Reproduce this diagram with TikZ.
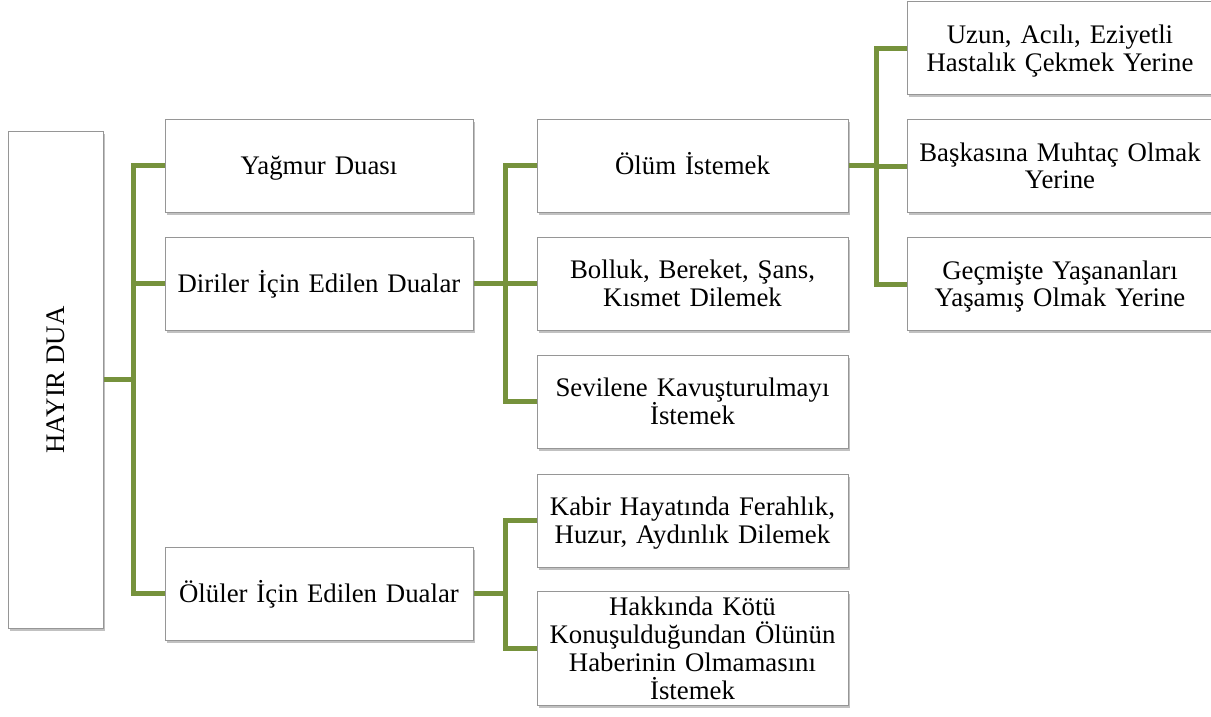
\documentclass[tikz,border=0pt]{standalone}
\usepackage{fontspec}
\setmainfont{Liberation Serif}
\usetikzlibrary{shadows}
\definecolor{conngreen}{RGB}{118,146,60}
\definecolor{boxline}{RGB}{150,150,150}
\tikzset{
  box/.style={draw=boxline, line width=1pt, fill=white,
    drop shadow={shadow xshift=1.5pt, shadow yshift=-2.5pt, opacity=0.35, fill=black!70},
    align=center, inner xsep=2pt, inner ysep=0pt,
    font=\fontsize{26.8}{27.8}\selectfont,
    execute at begin node={\rule{0pt}{24pt}},
    execute at end node={\rule[-6pt]{0pt}{6pt}}},
  lvone/.style={box, minimum width=308pt, minimum height=93pt, text width=300pt},
  lvtwo/.style={box, minimum width=311pt, minimum height=93pt, text width=300pt},
  lvthree/.style={box, minimum width=306pt, minimum height=93pt, text width=300pt},
  conn/.style={draw=conngreen, line width=5pt, line join=miter}
}
\begin{document}
\begin{tikzpicture}[x=1pt,y=-1pt]
\useasboundingbox (0,0) rectangle (1211,717);

\node[box, minimum width=95pt, minimum height=497pt,
  execute at begin node={}, execute at end node={}] (root) at (55.5,379.5) {};
\node[font=\fontsize{26.8}{28}\selectfont, rotate=90] (roottext) at (56,380) {HAYIR DUA};

\node[lvone] (yagmur) at (319,165.5) {Yağmur Duası};
\node[lvone] (diriler) at (319,283.5) {Diriler İçin Edilen Dualar};
\node[lvone] (oluler) at (319,593.5) {Ölüler İçin Edilen Dualar};

\node[lvtwo] (olum) at (692.5,165.5) {Ölüm İstemek};
\node[lvtwo] (bolluk) at (692.5,283.5) {Bolluk, Bereket, Şans,\\Kısmet Dilemek};
\node[lvtwo] (sevilene) at (692.5,401.5) {Sevilene Kavuşturulmayı\\İstemek};
\node[lvtwo] (kabir) at (692.5,520.5) {Kabir Hayatında Ferahlık,\\Huzur, Aydınlık Dilemek};
\node[lvtwo, minimum height=113pt] (hakkinda) at (692.5,648.5) {Hakkında Kötü\\Konuşulduğundan Ölünün\\Haberinin Olmamasını\\İstemek};

\node[lvthree] (uzun) at (1060,48.5) {Uzun, Acılı, Eziyetli\\Hastalık Çekmek Yerine};
\node[lvthree] (baskasina) at (1060,166) {Başkasına Muhtaç Olmak\\Yerine};
\node[lvthree] (gecmiste) at (1060,284) {Geçmişte Yaşananları\\Yaşamış Olmak Yerine};

\coordinate (busa) at (133,0);
\coordinate (busb) at (505,0);
\coordinate (busc) at (876,0);

\draw[conn] (root.east) -- (root.east -| busa);
\draw[conn] (yagmur.west) -- (yagmur.west -| busa) -- (oluler.west -| busa) -- (oluler.west);
\draw[conn] (diriler.west) -- (diriler.west -| busa);

\draw[conn] (diriler.east) -- (diriler.east -| busb);
\draw[conn] (olum.west) -- (olum.west -| busb) -- (sevilene.west -| busb) -- (sevilene.west);
\draw[conn] (bolluk.west) -- (bolluk.west -| busb);

\draw[conn] (oluler.east) -- (oluler.east -| busb);
\draw[conn] (kabir.west) -- (kabir.west -| busb) -- (hakkinda.west -| busb) -- (hakkinda.west);

\draw[conn] (olum.east) -- (olum.east -| busc);
\draw[conn] (uzun.west) -- (uzun.west -| busc) -- (gecmiste.west -| busc) -- (gecmiste.west);
\draw[conn] (baskasina.west) -- (baskasina.west -| busc);
\end{tikzpicture}
\end{document}
